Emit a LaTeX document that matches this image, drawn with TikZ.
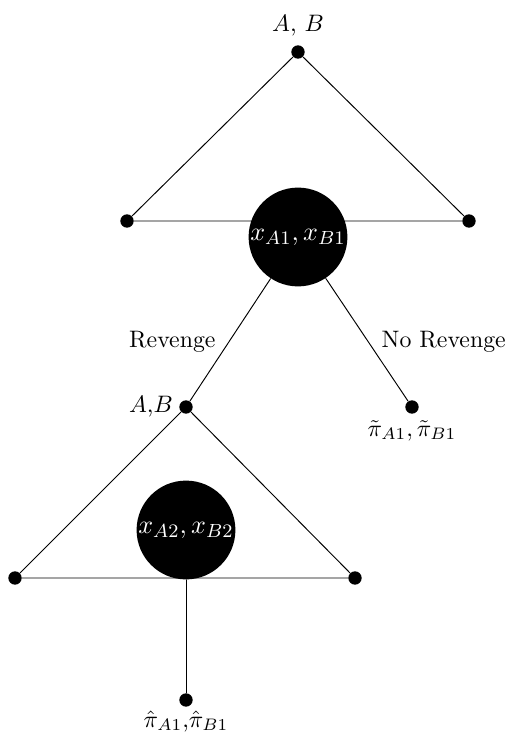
\documentclass[tikz,border=0pt]{standalone}
\usepackage{amsmath}
\usetikzlibrary{positioning,calc}
\begin{document}
\begin{tikzpicture}[x=0.42pt, y=-0.42pt, line join=round, line cap=round,
  dot/.style={circle, fill=black, inner sep=0pt, minimum size=5.6pt},
  infoset/.style={circle, fill=black, text=white, inner sep=0pt, minimum size=41.5pt, font=\fontsize{11}{13}\selectfont}]
\useasboundingbox (0,0) rectangle (511,737);
% first stage: simultaneous moves of A and B
\node[dot, label={above:$A$, $B$}] (top1) at (298,52) {};
\node[dot] (left1) at (127,221) {};
\node[dot] (right1) at (469,221) {};
\draw (top1) -- (left1) -- (right1) -- (top1);
\node[infoset] (move1) at (298,237) {$x_{A1}, x_{B1}$};
% revenge or not
\node[dot, label={[label distance=-1pt]left:$A$,$B$}] (top2) at (186,407) {};
\node[dot, label={[label distance=-1pt]below:$\tilde{\pi}_{A1}, \tilde{\pi}_{B1}$}] (norev) at (412,407) {};
\draw (move1) -- node[pos=0.52, left=2pt] {Revenge} (top2);
\draw (move1) -- node[pos=0.52, right=2pt] {No Revenge} (norev);
% second stage
\node[dot] (left2) at (15,578) {};
\node[dot] (right2) at (355,578) {};
\draw (top2) -- (left2) -- (right2) -- (top2);
\node[infoset] (move2) at (186,530) {$x_{A2}, x_{B2}$};
\node[dot, label={[label distance=-2pt]below:$\hat{\pi}_{A1}$,$\hat{\pi}_{B1}$}] (end2) at (186,700) {};
\draw (move2) -- (end2);
\end{tikzpicture}
\end{document}
